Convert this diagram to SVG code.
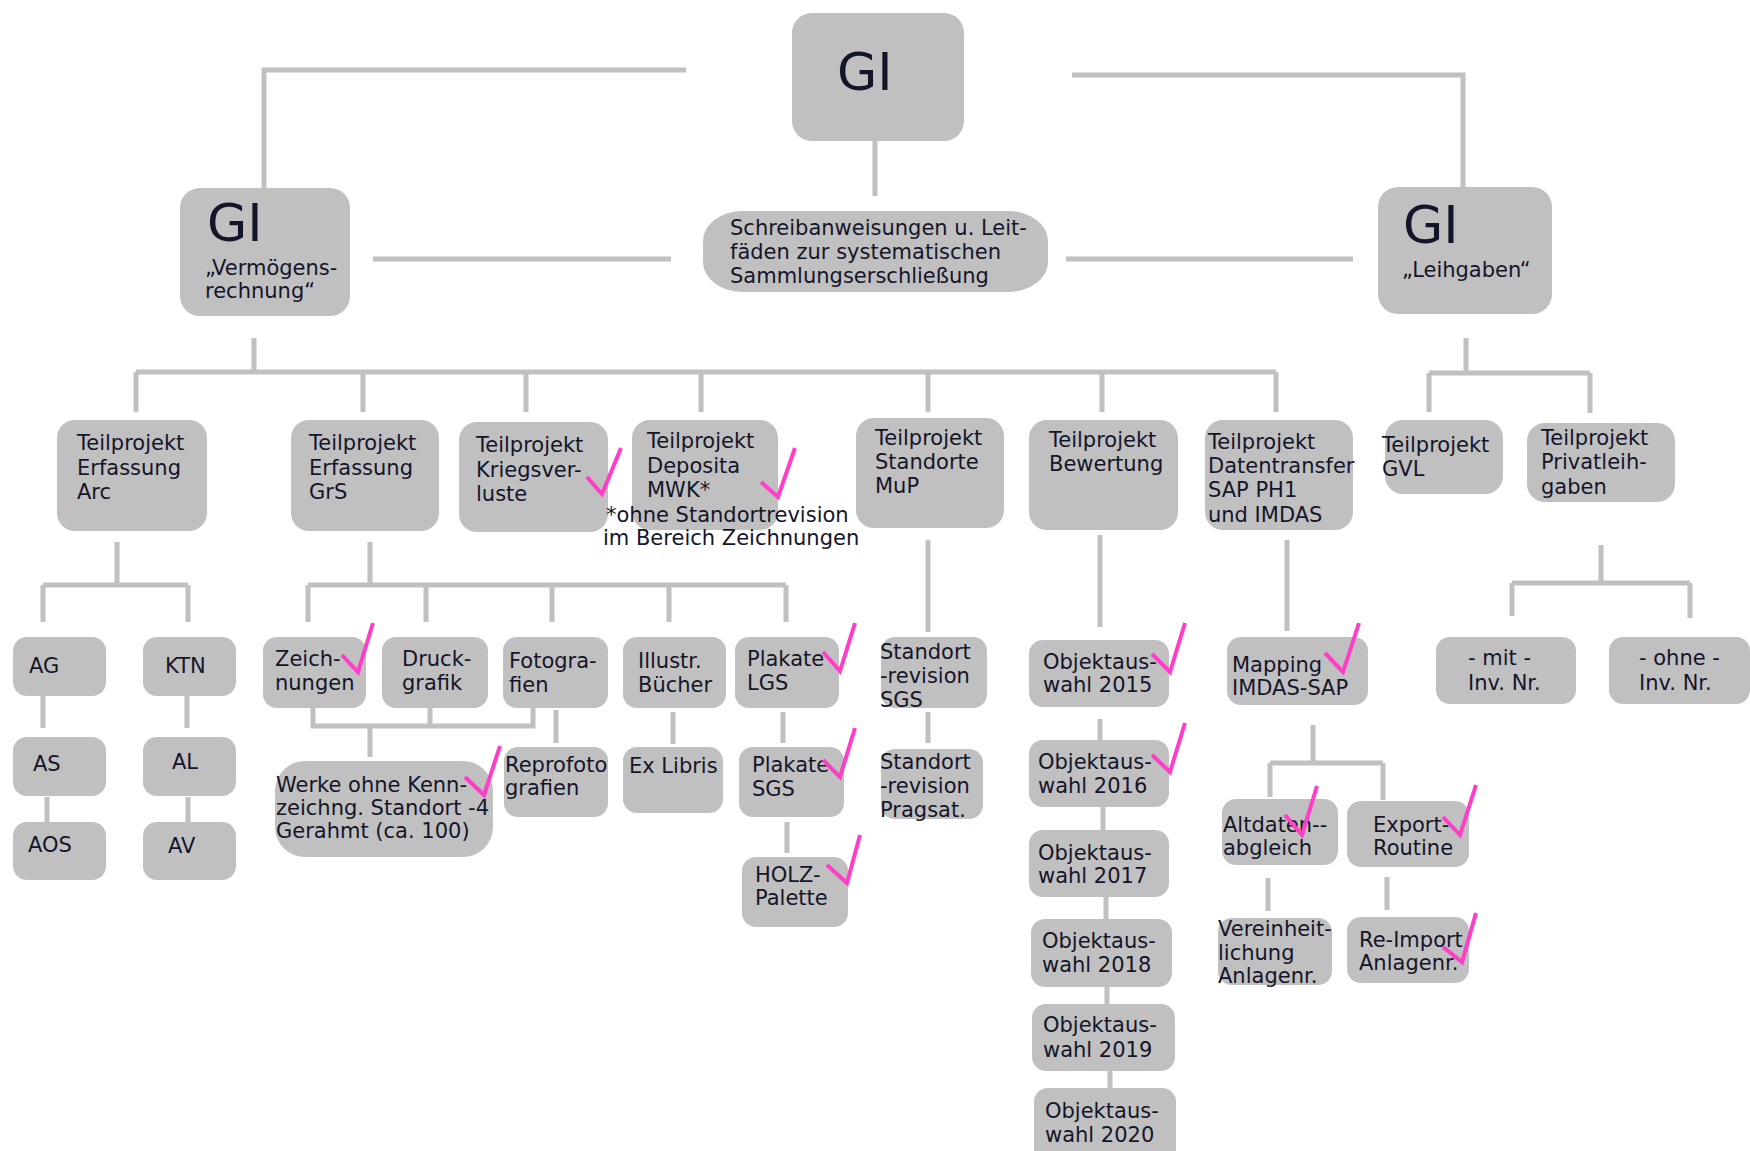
<svg xmlns="http://www.w3.org/2000/svg" width="1750" height="1151" viewBox="0 0 1750 1151">
<style>
.b{fill:#c0c0c0}
.t{font-family:"DejaVu Sans",Verdana,sans-serif;font-size:21px;fill:#15152a}
.gi{font-size:52px}
.c{stroke:#c0c0c0;stroke-width:5;fill:none}
.k{stroke:#ff3dc8;stroke-width:4;fill:none;stroke-linejoin:miter}
</style>
<rect width="1750" height="1151" fill="#ffffff"/>
<g id="connectors" class="c">
<path d="M686,70H264V188"/>
<path d="M1072,75H1463V187"/>
<path d="M875,141V196"/>
<path d="M373,259H671"/>
<path d="M1066,259H1353"/>
<path d="M254,338V372M136,372H1276M136,372V412M363,372V412M526,372V412M701,372V412M928,372V412M1102,372V412M1276,372V412"/>
<path d="M1466,338V373M1429,373H1590M1429,373V412M1590,373V413"/>
<path d="M117,542V585M43,585H188M43,585V622M188,585V622M43,696V728M47,797V822M187,696V728M188,797V822"/>
<path d="M370,542V585M308,585H786M308,585V622M426,585V622M552,585V622M669,585V622M786,585V622"/>
<path d="M313,708V726H533V708M430,708V726M370,726V757M556,710V743M673,712V744M783,712V743M787,822V853"/>
<path d="M928,540V632M928,712V743"/>
<path d="M1100,535V627M1100,719V741M1103,807V830M1106,897V919M1107,987V1004M1110,1071V1088"/>
<path d="M1287,540V631M1313,725V763M1270,763H1383M1270,763V797M1383,763V800M1268,878V911M1387,877V910"/>
<path d="M1601,545V583M1512,583H1690M1512,583V616M1690,583V618"/>
</g>
<g id="gi-top"><rect class="b" x="792" y="13" width="172" height="128" rx="20"/><text class="t gi" x="837" y="90">GI</text></g>
<g id="gi-left"><rect class="b" x="180" y="188" width="170" height="128" rx="20"/><text class="t gi" x="207" y="241">GI</text><text class="t" x="205" y="275">„Vermögens-</text><text class="t" x="205" y="298">rechnung“</text></g>
<g id="gi-right"><rect class="b" x="1378" y="187" width="174" height="127" rx="20"/><text class="t gi" x="1403" y="243">GI</text><text class="t" x="1402" y="277">„Leihgaben“</text></g>
<g id="schreib"><rect class="b" x="703" y="211" width="345" height="81" rx="40" ry="30"/><text class="t" x="730" y="235">Schreibanweisungen u. Leit-</text><text class="t" x="730" y="259">fäden zur systematischen</text><text class="t" x="730" y="283">Sammlungserschließung</text></g>
<g id="tp-arc"><rect class="b" x="57" y="420" width="150" height="111" rx="18"/><text class="t" x="77" y="450">Teilprojekt</text><text class="t" x="77" y="475">Erfassung</text><text class="t" x="77" y="499">Arc</text></g>
<g id="tp-grs"><rect class="b" x="291" y="420" width="148" height="111" rx="18"/><text class="t" x="309" y="450">Teilprojekt</text><text class="t" x="309" y="475">Erfassung</text><text class="t" x="309" y="499">GrS</text></g>
<g id="tp-krieg"><rect class="b" x="459" y="422" width="149" height="110" rx="18"/><text class="t" x="476" y="452">Teilprojekt</text><text class="t" x="476" y="477">Kriegsver-</text><text class="t" x="476" y="501">luste</text></g>
<g id="tp-deposita"><rect class="b" x="632" y="420" width="146" height="110" rx="18"/><text class="t" x="647" y="448">Teilprojekt</text><text class="t" x="647" y="473">Deposita</text><text class="t" x="647" y="497">MWK*</text><text class="t" x="606" y="522">*ohne Standortrevision</text><text class="t" x="603" y="545">im Bereich Zeichnungen</text></g>
<g id="tp-mup"><rect class="b" x="856" y="418" width="148" height="110" rx="18"/><text class="t" x="875" y="445">Teilprojekt</text><text class="t" x="875" y="469">Standorte</text><text class="t" x="875" y="493">MuP</text></g>
<g id="tp-bewertung"><rect class="b" x="1029" y="420" width="149" height="110" rx="18"/><text class="t" x="1049" y="447">Teilprojekt</text><text class="t" x="1049" y="471">Bewertung</text></g>
<g id="tp-daten"><rect class="b" x="1205" y="420" width="148" height="110" rx="18"/><text class="t" x="1208" y="449">Teilprojekt</text><text class="t" x="1208" y="473">Datentransfer</text><text class="t" x="1208" y="497">SAP PH1</text><text class="t" x="1208" y="522">und IMDAS</text></g>
<g id="tp-gvl"><rect class="b" x="1385" y="420" width="118" height="74" rx="18"/><text class="t" x="1382" y="452">Teilprojekt</text><text class="t" x="1382" y="476">GVL</text></g>
<g id="tp-privat"><rect class="b" x="1527" y="423" width="148" height="79" rx="18"/><text class="t" x="1541" y="445">Teilprojekt</text><text class="t" x="1541" y="469">Privatleih-</text><text class="t" x="1541" y="494">gaben</text></g>
<g id="ag"><rect class="b" x="13" y="637" width="93" height="59" rx="14"/><text class="t" x="29" y="673">AG</text></g>
<g id="ktn"><rect class="b" x="143" y="637" width="93" height="59" rx="14"/><text class="t" x="165" y="673">KTN</text></g>
<g id="as"><rect class="b" x="13" y="737" width="93" height="59" rx="14"/><text class="t" x="33" y="771">AS</text></g>
<g id="al"><rect class="b" x="143" y="737" width="93" height="59" rx="14"/><text class="t" x="172" y="769">AL</text></g>
<g id="aos"><rect class="b" x="13" y="822" width="93" height="58" rx="14"/><text class="t" x="28" y="852">AOS</text></g>
<g id="av"><rect class="b" x="143" y="822" width="93" height="58" rx="14"/><text class="t" x="168" y="853">AV</text></g>
<g id="zeichnungen"><rect class="b" x="263" y="637" width="103" height="71" rx="14"/><text class="t" x="275" y="666">Zeich-</text><text class="t" x="275" y="690">nungen</text></g>
<g id="druckgrafik"><rect class="b" x="382" y="637" width="106" height="71" rx="14"/><text class="t" x="402" y="666">Druck-</text><text class="t" x="402" y="690">grafik</text></g>
<g id="fotografien"><rect class="b" x="503" y="637" width="105" height="71" rx="14"/><text class="t" x="509" y="668">Fotogra-</text><text class="t" x="509" y="692">fien</text></g>
<g id="illustr"><rect class="b" x="623" y="637" width="103" height="71" rx="14"/><text class="t" x="638" y="668">Illustr.</text><text class="t" x="638" y="692">Bücher</text></g>
<g id="plakate-lgs"><rect class="b" x="735" y="637" width="104" height="71" rx="14"/><text class="t" x="747" y="666">Plakate</text><text class="t" x="747" y="690">LGS</text></g>
<g id="standort-sgs"><rect class="b" x="881" y="637" width="106" height="71" rx="14"/><text class="t" x="880" y="659">Standort</text><text class="t" x="880" y="683">-revision</text><text class="t" x="880" y="707">SGS</text></g>
<g id="obj2015"><rect class="b" x="1029" y="640" width="140" height="67" rx="14"/><text class="t" x="1043" y="669">Objektaus-</text><text class="t" x="1043" y="692">wahl 2015</text></g>
<g id="mapping"><rect class="b" x="1227" y="637" width="141" height="68" rx="14"/><text class="t" x="1232" y="672">Mapping</text><text class="t" x="1232" y="695">IMDAS-SAP</text></g>
<g id="mit"><rect class="b" x="1436" y="637" width="140" height="67" rx="14"/><text class="t" x="1468" y="665">- mit -</text><text class="t" x="1468" y="690">Inv. Nr.</text></g>
<g id="ohne"><rect class="b" x="1609" y="637" width="141" height="67" rx="14"/><text class="t" x="1639" y="665">- ohne -</text><text class="t" x="1639" y="690">Inv. Nr.</text></g>
<g id="werke"><rect class="b" x="275" y="761" width="218" height="96" rx="30"/><text class="t" x="276" y="792">Werke ohne Kenn-</text><text class="t" x="276" y="815">zeichng. Standort -4</text><text class="t" x="276" y="838">Gerahmt (ca. 100)</text></g>
<g id="reprofoto"><rect class="b" x="504" y="747" width="104" height="70" rx="14"/><text class="t" x="505" y="772">Reprofoto</text><text class="t" x="505" y="795">grafien</text></g>
<g id="exlibris"><rect class="b" x="623" y="747" width="100" height="66" rx="14"/><text class="t" x="629" y="773">Ex Libris</text></g>
<g id="plakate-sgs"><rect class="b" x="739" y="747" width="105" height="70" rx="14"/><text class="t" x="752" y="772">Plakate</text><text class="t" x="752" y="796">SGS</text></g>
<g id="standort-pragsat"><rect class="b" x="881" y="749" width="102" height="70" rx="14"/><text class="t" x="880" y="769">Standort</text><text class="t" x="880" y="793">-revision</text><text class="t" x="880" y="817">Pragsat.</text></g>
<g id="obj2016"><rect class="b" x="1029" y="740" width="140" height="67" rx="14"/><text class="t" x="1038" y="769">Objektaus-</text><text class="t" x="1038" y="793">wahl 2016</text></g>
<g id="altdaten"><rect class="b" x="1222" y="799" width="116" height="66" rx="14"/><text class="t" x="1223" y="832">Altdaten--</text><text class="t" x="1223" y="855">abgleich</text></g>
<g id="export"><rect class="b" x="1347" y="801" width="122" height="66" rx="14"/><text class="t" x="1373" y="832">Export-</text><text class="t" x="1373" y="855">Routine</text></g>
<g id="holz"><rect class="b" x="742" y="857" width="106" height="70" rx="14"/><text class="t" x="755" y="882">HOLZ-</text><text class="t" x="755" y="905">Palette</text></g>
<g id="obj2017"><rect class="b" x="1029" y="830" width="140" height="67" rx="14"/><text class="t" x="1038" y="860">Objektaus-</text><text class="t" x="1038" y="883">wahl 2017</text></g>
<g id="vereinheitlichung"><rect class="b" x="1218" y="918" width="114" height="67" rx="14"/><text class="t" x="1218" y="936">Vereinheit-</text><text class="t" x="1218" y="960">lichung</text><text class="t" x="1218" y="983">Anlagenr.</text></g>
<g id="reimport"><rect class="b" x="1347" y="917" width="122" height="66" rx="14"/><text class="t" x="1359" y="947">Re-Import</text><text class="t" x="1359" y="970">Anlagenr.</text></g>
<g id="obj2018"><rect class="b" x="1031" y="919" width="141" height="68" rx="14"/><text class="t" x="1042" y="948">Objektaus-</text><text class="t" x="1042" y="972">wahl 2018</text></g>
<g id="obj2019"><rect class="b" x="1032" y="1004" width="143" height="67" rx="14"/><text class="t" x="1043" y="1032">Objektaus-</text><text class="t" x="1043" y="1057">wahl 2019</text></g>
<g id="obj2020"><rect class="b" x="1034" y="1088" width="142" height="80" rx="14"/><text class="t" x="1045" y="1118">Objektaus-</text><text class="t" x="1045" y="1142">wahl 2020</text></g>
<g id="checks" class="k">
<polyline points="587,477 602,494 621,448"/>
<polyline points="761,482 778,497 795,448"/>
<polyline points="342,655 358,672 373,623"/>
<polyline points="465,777 484,795 500,746"/>
<polyline points="823,652 840,671 855,623"/>
<polyline points="823,760 840,777 855,728"/>
<polyline points="827,865 847,883 860,835"/>
<polyline points="1152,654 1170,672 1185,623"/>
<polyline points="1152,755 1170,772 1185,723"/>
<polyline points="1325,653 1343,672 1359,623"/>
<polyline points="1285,815 1302,835 1317,786"/>
<polyline points="1443,817 1460,835 1476,785"/>
<polyline points="1443,947 1462,962 1476,913"/>
</g>
</svg>
